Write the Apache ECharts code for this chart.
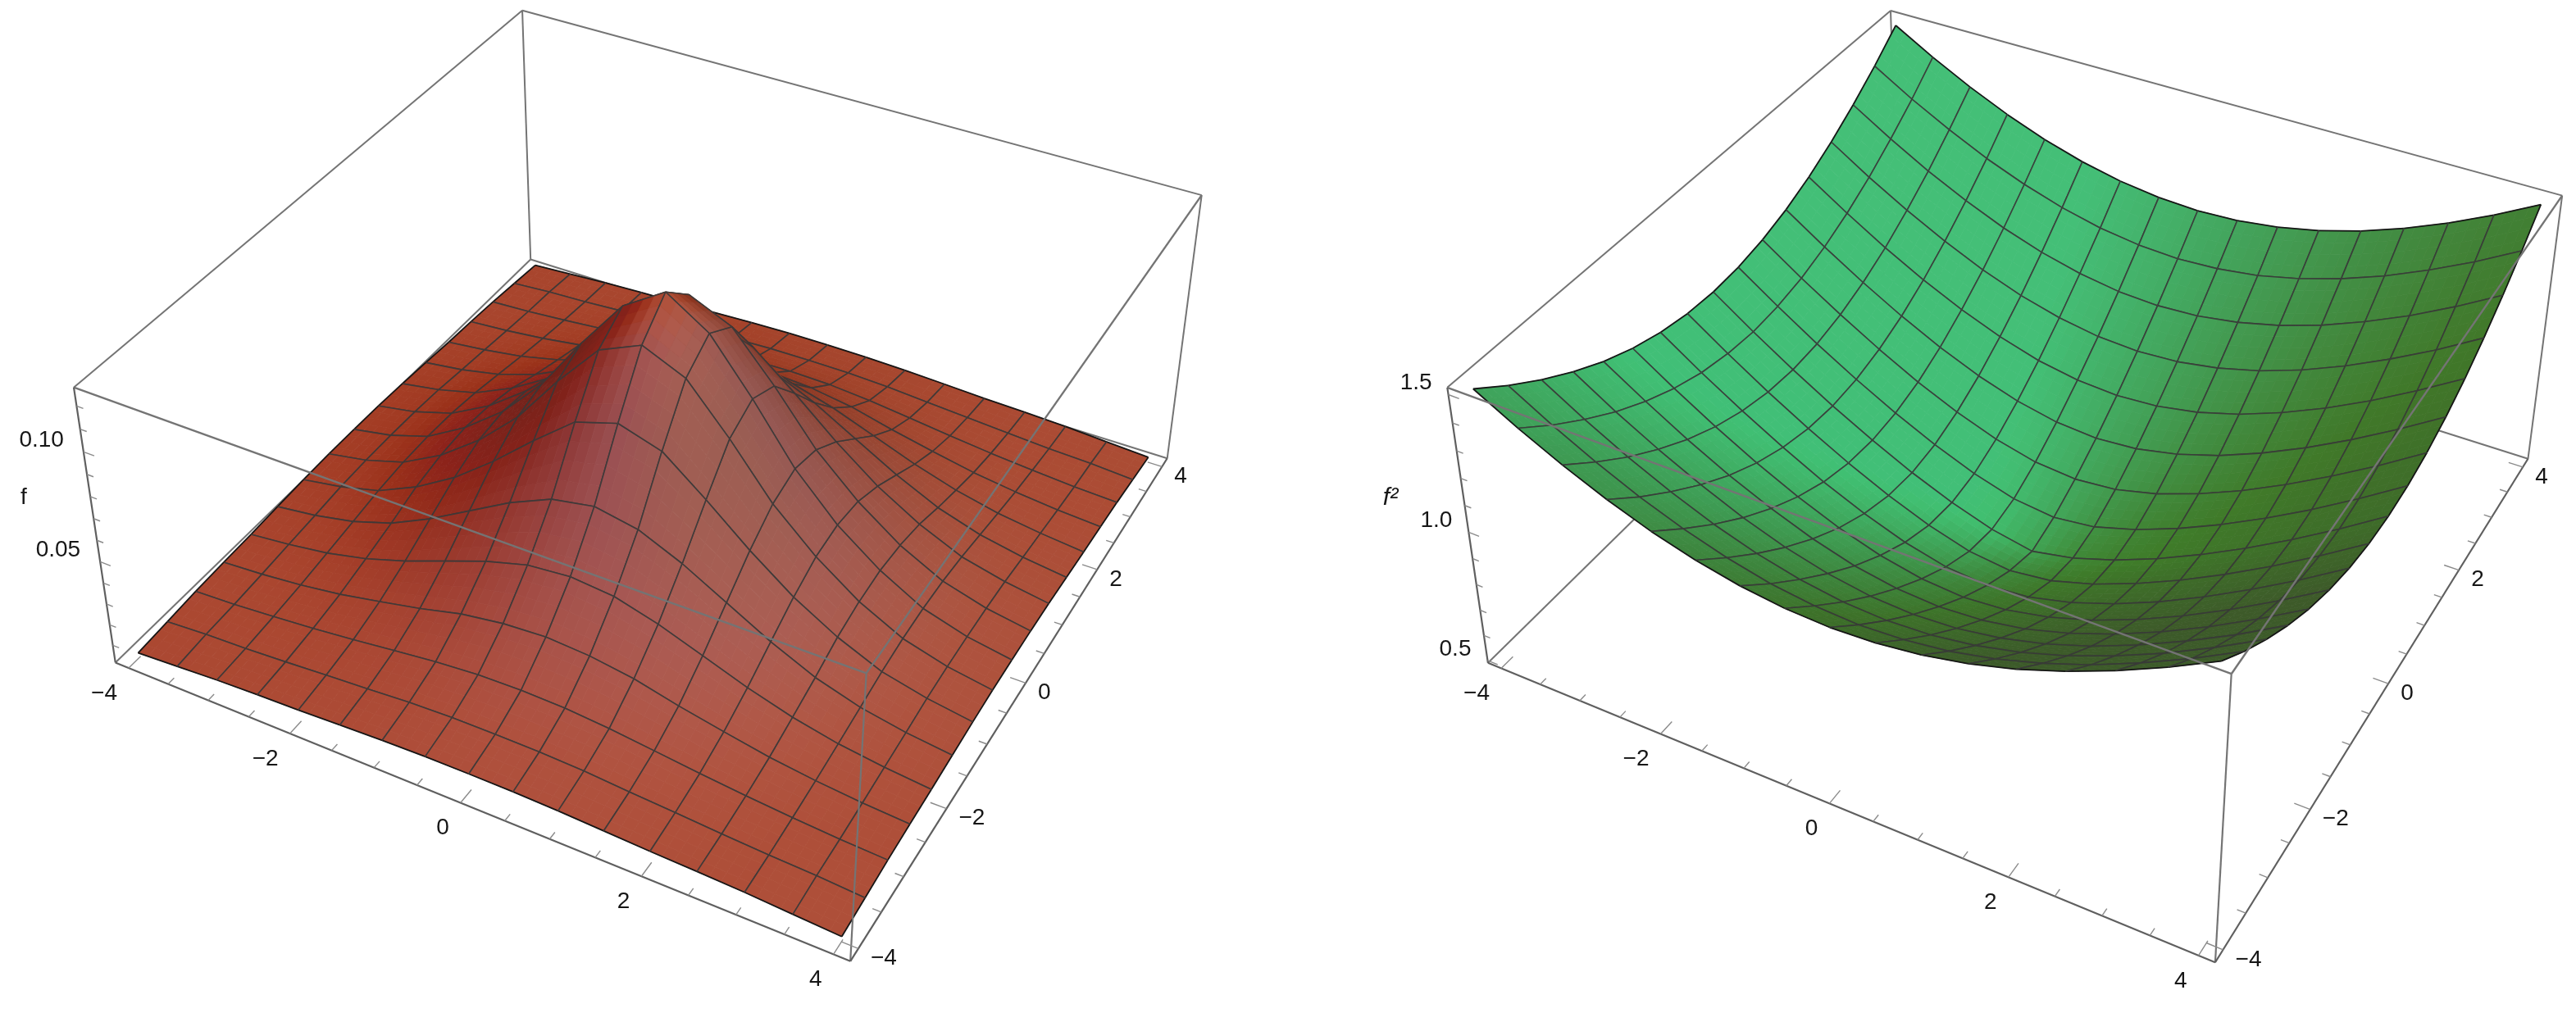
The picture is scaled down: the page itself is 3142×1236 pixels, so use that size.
<!DOCTYPE html>
<html><head><meta charset="utf-8">
<style>html,body{margin:0;padding:0;background:#fff}#c{width:3142px;height:1236px}</style>
<script src="https://cdn.jsdelivr.net/npm/echarts@6/dist/echarts.min.js"></script>
</head><body><div id="c"></div>
<script>
const gridX=[-4,-3.5,-3,-2.5,-2,-1.5,-1,-0.5,0,0.5,1,1.5,2,2.5,3,3.5,4];
const gridY=[-4,-3.5,-3,-2.5,-2,-1.5,-1,-0.5,0,0.5,1,1.5,2,2.5,3,3.5,4];
const fValues=[
[.0040,.0052,.0064,.0072,.0078,.0087,.0095,.0100,.0101,.0100,.0095,.0087,.0078,.0072,.0064,.0052,.0040],
[.0052,.0066,.0074,.0086,.0100,.0113,.0128,.0135,.0137,.0135,.0128,.0113,.0100,.0086,.0074,.0066,.0052],
[.0064,.0074,.0089,.0107,.0129,.0153,.0177,.0193,.0198,.0193,.0177,.0153,.0129,.0107,.0089,.0074,.0064],
[.0072,.0086,.0107,.0135,.0174,.0216,.0265,.0295,.0308,.0295,.0265,.0216,.0174,.0135,.0107,.0086,.0072],
[.0078,.0100,.0129,.0174,.0235,.0308,.0380,.0435,.0453,.0435,.0380,.0308,.0235,.0174,.0129,.0100,.0078],
[.0087,.0113,.0153,.0216,.0308,.0417,.0526,.0612,.0648,.0612,.0526,.0417,.0308,.0216,.0153,.0113,.0087],
[.0095,.0128,.0177,.0265,.0380,.0526,.0690,.0843,.0903,.0843,.0690,.0526,.0380,.0265,.0177,.0128,.0095],
[.0100,.0135,.0193,.0295,.0435,.0612,.0843,.1050,.1134,.1050,.0843,.0612,.0435,.0295,.0193,.0135,.0100],
[.0101,.0137,.0198,.0308,.0453,.0648,.0903,.1134,.1256,.1134,.0903,.0648,.0453,.0308,.0198,.0137,.0101],
[.0100,.0135,.0193,.0295,.0435,.0612,.0843,.1050,.1134,.1050,.0843,.0612,.0435,.0295,.0193,.0135,.0100],
[.0095,.0128,.0177,.0265,.0380,.0526,.0690,.0843,.0903,.0843,.0690,.0526,.0380,.0265,.0177,.0128,.0095],
[.0087,.0113,.0153,.0216,.0308,.0417,.0526,.0612,.0648,.0612,.0526,.0417,.0308,.0216,.0153,.0113,.0087],
[.0078,.0100,.0129,.0174,.0235,.0308,.0380,.0435,.0453,.0435,.0380,.0308,.0235,.0174,.0129,.0100,.0078],
[.0072,.0086,.0107,.0135,.0174,.0216,.0265,.0295,.0308,.0295,.0265,.0216,.0174,.0135,.0107,.0086,.0072],
[.0064,.0074,.0089,.0107,.0129,.0153,.0177,.0193,.0198,.0193,.0177,.0153,.0129,.0107,.0089,.0074,.0064],
[.0052,.0066,.0074,.0086,.0100,.0113,.0128,.0135,.0137,.0135,.0128,.0113,.0100,.0086,.0074,.0066,.0052],
[.0040,.0052,.0064,.0072,.0078,.0087,.0095,.0100,.0101,.0100,.0095,.0087,.0078,.0072,.0064,.0052,.0040]
];
const f2Values=[
[1.505,1.420,1.344,1.277,1.220,1.175,1.142,1.122,1.115,1.122,1.142,1.175,1.220,1.277,1.344,1.420,1.505],
[1.420,1.331,1.252,1.181,1.122,1.074,1.038,1.017,1.009,1.017,1.038,1.074,1.122,1.181,1.252,1.331,1.420],
[1.344,1.252,1.168,1.095,1.031,.980,.942,.918,.910,.918,.942,.980,1.031,1.095,1.168,1.252,1.344],
[1.277,1.181,1.095,1.017,.949,.894,.853,.827,.818,.827,.853,.894,.949,1.017,1.095,1.181,1.277],
[1.220,1.122,1.031,.949,.878,.818,.772,.744,.734,.744,.772,.818,.878,.949,1.031,1.122,1.220],
[1.175,1.074,.980,.894,.818,.753,.703,.670,.658,.670,.703,.753,.818,.894,.980,1.074,1.175],
[1.142,1.038,.942,.853,.772,.703,.646,.607,.593,.607,.646,.703,.772,.853,.942,1.038,1.142],
[1.122,1.017,.918,.827,.744,.670,.607,.560,.541,.560,.607,.670,.744,.827,.918,1.017,1.122],
[1.115,1.009,.910,.818,.734,.658,.593,.541,.510,.541,.593,.658,.734,.818,.910,1.009,1.115],
[1.122,1.017,.918,.827,.744,.670,.607,.560,.541,.560,.607,.670,.744,.827,.918,1.017,1.122],
[1.142,1.038,.942,.853,.772,.703,.646,.607,.593,.607,.646,.703,.772,.853,.942,1.038,1.142],
[1.175,1.074,.980,.894,.818,.753,.703,.670,.658,.670,.703,.753,.818,.894,.980,1.074,1.175],
[1.220,1.122,1.031,.949,.878,.818,.772,.744,.734,.744,.772,.818,.878,.949,1.031,1.122,1.220],
[1.277,1.181,1.095,1.017,.949,.894,.853,.827,.818,.827,.853,.894,.949,1.017,1.095,1.181,1.277],
[1.344,1.252,1.168,1.095,1.031,.980,.942,.918,.910,.918,.942,.980,1.031,1.095,1.168,1.252,1.344],
[1.420,1.331,1.252,1.181,1.122,1.074,1.038,1.017,1.009,1.017,1.038,1.074,1.122,1.181,1.252,1.331,1.420],
[1.505,1.420,1.344,1.277,1.220,1.175,1.142,1.122,1.115,1.122,1.142,1.175,1.220,1.277,1.344,1.420,1.505]
];
const xyTicks=[-4,-3.5,-3,-2.5,-2,-1.5,-1,-0.5,0,0.5,1,1.5,2,2.5,3,3.5,4];
const xyLabels=[-4,-2,0,2,4];
const zTicksF=[.01,.02,.03,.04,.05,.06,.07,.08,.09,.10,.11,.12];
const zLabelsF=[.05,.10];
const zTicksF2=[.5,.6,.7,.8,.9,1.0,1.1,1.2,1.3,1.4,1.5];
const zLabelsF2=[.5,1.0,1.5];

const fontPx=28;
const fontFam='"Liberation Sans", Arial, sans-serif';
const TXT='#161616';

function fitCamera(c){
  const names=[['Ab',0,0,0],['Bb',1,0,0],['Cb',1,1,0],['Db',0,1,0],['At',0,0,1],['Bt',1,0,1],['Ct',1,1,1],['Dt',0,1,1]];
  const A=[],B=[];
  names.forEach(([n,u,v,w])=>{
    const x=c[n][0]/1000,y=c[n][1]/1000;
    A.push([u,v,w,1,0,0,0,0,-x*u,-x*v,-x*w]);B.push(x);
    A.push([0,0,0,0,u,v,w,1,-y*u,-y*v,-y*w]);B.push(y);
  });
  const n=11,M=[];
  for(let i=0;i<n;i++){M.push([]);for(let j=0;j<=n;j++){let s=0;for(let k=0;k<A.length;k++)s+=A[k][i]*(j<n?A[k][j]:B[k]);M[i].push(s);}}
  for(let i=0;i<n;i++){
    let p=i;for(let r=i+1;r<n;r++)if(Math.abs(M[r][i])>Math.abs(M[p][i]))p=r;
    [M[i],M[p]]=[M[p],M[i]];
    for(let r=0;r<n;r++){if(r===i)continue;const f=M[r][i]/M[i][i];for(let j=i;j<=n;j++)M[r][j]-=f*M[i][j];}
  }
  const s=M.map((r,i)=>r[n]/r[i]);
  return [s.slice(0,4),s.slice(4,8),[s[8],s[9],s[10],1]];
}

function buildChart(cfg){
  const P=fitCamera(cfg.corners);
  const r=cfg.range;
  const hom=(x,y,z)=>{
    const u=(x-r.x0)/(r.x1-r.x0),v=(y-r.y0)/(r.y1-r.y0),w=(z-r.z0)/(r.z1-r.z0);
    const a=(i)=>P[i][0]*u+P[i][1]*v+P[i][2]*w+P[i][3];
    const h=a(2);return [a(0)/h*1000,a(1)/h*1000,h];
  };
  const Z=cfg.values,n=gridX.length;
  const dzx=(j,i)=>{const a=Math.max(i-1,0),b=Math.min(i+1,n-1);return (Z[j][b]-Z[j][a])/(gridX[b]-gridX[a]);};
  const dzy=(j,i)=>{const a=Math.max(j-1,0),b=Math.min(j+1,n-1);return (Z[b][i]-Z[a][i])/(gridY[b]-gridY[a]);};
  const slopeK=0.4/(r.z1-r.z0)*(r.x1-r.x0);
  const shade=(gx,gy)=>{
    const sx=gx*slopeK,sy=gy*slopeK,L=Math.hypot(sx,sy,1);
    const m=cfg.light(-sx/L,-sy/L,1/L);
    return 'rgb('+m.map((v,c)=>Math.round(Math.min(255,cfg.base[c]*Math.max(.3,v)))).join(',')+')';
  };
  const cells=[];
  for(let j=0;j<n-1;j++)for(let i=0;i<n-1;i++){
    const xm=(gridX[i]+gridX[i+1])/2,ym=(gridY[j]+gridY[j+1])/2,zm=(Z[j][i]+Z[j][i+1]+Z[j+1][i]+Z[j+1][i+1])/4;
    cells.push({i,j,d:hom(xm,ym,zm)[2]});
  }
  cells.sort((a,b)=>b.d-a.d);
  const SUB=4;
  const surface=(api,cell)=>{
    const {i,j}=cell,ch=[];
    const pt=(s,t)=>{
      const x=gridX[i]+(gridX[i+1]-gridX[i])*s,y=gridY[j]+(gridY[j+1]-gridY[j])*t;
      const z=Z[j][i]*(1-s)*(1-t)+Z[j][i+1]*s*(1-t)+Z[j+1][i]*(1-s)*t+Z[j+1][i+1]*s*t;
      const h=hom(x,y,z);return api.coord([h[0],h[1]]);
    };
    const grad=(s,t,fn)=>fn(j,i)*(1-s)*(1-t)+fn(j,i+1)*s*(1-t)+fn(j+1,i)*(1-s)*t+fn(j+1,i+1)*s*t;
    for(let a=0;a<SUB;a++)for(let b=0;b<SUB;b++){
      const s0=a/SUB,s1=(a+1)/SUB,t0=b/SUB,t1=(b+1)/SUB,sm=(s0+s1)/2,tm=(t0+t1)/2;
      const col=shade(grad(sm,tm,dzx),grad(sm,tm,dzy));
      ch.push({type:'polygon',silent:true,shape:{points:[pt(s0,t0),pt(s1,t0),pt(s1,t1),pt(s0,t1)]},style:{fill:col,stroke:col,lineWidth:.8}});
    }
    const edge=(p,q,outer)=>ch.push({type:'line',silent:true,shape:{x1:p[0],y1:p[1],x2:q[0],y2:q[1]},
      style:{stroke:outer?'#161616':'rgba(56,56,56,.92)',lineWidth:outer?1.8:1.6,fill:null}});
    const p00=pt(0,0),p10=pt(1,0),p11=pt(1,1),p01=pt(0,1);
    edge(p00,p10,j===0);edge(p10,p11,i===n-2);edge(p11,p01,j===n-2);edge(p01,p00,i===0);
    return {type:'group',children:ch};
  };
  const B=r;
  const backEdges=[
    [B.x0,B.y0,B.z0,B.x0,B.y1,B.z0],[B.x0,B.y1,B.z0,B.x1,B.y1,B.z0],[B.x0,B.y1,B.z0,B.x0,B.y1,B.z1],
    [B.x0,B.y0,B.z1,B.x0,B.y1,B.z1],[B.x0,B.y1,B.z1,B.x1,B.y1,B.z1],[B.x1,B.y1,B.z1,B.x1,B.y1,B.z0]
  ].map(e=>({e,c:'#747474',w:2}));
  const frontEdges=[
    {e:[B.x0,B.y0,B.z1,B.x1,B.y0,B.z1],c:'#747474',w:2.4},
    {e:[B.x1,B.y0,B.z1,B.x1,B.y1,B.z1],c:'#747474',w:2.4},
    {e:[B.x1,B.y0,B.z1,B.x1,B.y0,B.z0],c:'#747474',w:2.2},
    {e:[B.x0,B.y0,B.z0,B.x1,B.y0,B.z0],c:'#5f5f5f',w:2.2},
    {e:[B.x1,B.y0,B.z0,B.x1,B.y1,B.z0],c:'#5f5f5f',w:2.2},
    {e:[B.x0,B.y0,B.z0,B.x0,B.y0,B.z1],c:'#5f5f5f',w:2.2}
  ];
  const tickCol='#8a8a8a';
  xyTicks.forEach(t=>{
    const maj=xyLabels.includes(t);
    frontEdges.push({e:[t,B.y0,B.z0,t,B.y0+(maj?.2:.1),B.z0],c:tickCol,w:1.4});
    frontEdges.push({e:[B.x1,t,B.z0,B.x1-(maj?.17:.09),t,B.z0],c:tickCol,w:1.4});
  });
  cfg.zTicks.forEach(t=>{
    const maj=cfg.zLabels.includes(t);
    frontEdges.push({e:[B.x0,B.y0,t,B.x0+(maj?.13:.08),B.y0,t],c:tickCol,w:1.4});
  });
  const texts=[];
  const tf=v=>String(v).replace('-','\u2212');
  xyLabels.forEach(t=>{
    texts.push({p:[t,B.y0,B.z0],dx:-14,dy:31,a:'right',s:tf(t)});
    texts.push({p:[B.x1,t,B.z0],dx:15,dy:12,a:'left',s:tf(t)});
  });
  cfg.zLabels.forEach(t=>{
    texts.push({p:[B.x0,B.y0,t],dx:cfg.zDx,dy:-14,a:'right',s:t.toFixed(cfg.zDigits)});
  });
  texts.push({abs:cfg.axisLabel.at,a:'center',s:cfg.axisLabel.text,italic:cfg.axisLabel.italic,px:cfg.axisLabel.px});

  const lineSeries=(items,z)=>({type:'custom',coordinateSystem:'cartesian2d',z,silent:true,animation:false,clip:false,
    data:items.map((_,i)=>[i,0]),
    renderItem:(p,api)=>{const it=items[p.dataIndex],e=it.e;
      const a=hom(e[0],e[1],e[2]),b=hom(e[3],e[4],e[5]);
      const pa=api.coord([a[0],a[1]]),pb=api.coord([b[0],b[1]]);
      return {type:'line',silent:true,shape:{x1:pa[0],y1:pa[1],x2:pb[0],y2:pb[1]},style:{stroke:it.c,lineWidth:it.w,fill:null}};
    }});
  return [
    lineSeries(backEdges,1),
    {type:'custom',coordinateSystem:'cartesian2d',z:2,silent:true,animation:false,clip:false,
     data:cells.map((_,i)=>[i,0]),renderItem:(p,api)=>surface(api,cells[p.dataIndex])},
    lineSeries(frontEdges,3),
    {type:'custom',coordinateSystem:'cartesian2d',z:4,silent:true,animation:false,clip:false,
     data:texts.map((_,i)=>[i,0]),
     renderItem:(p,api)=>{const t=texts[p.dataIndex];
       let c;
       if(t.abs)c=api.coord(t.abs);else{const h=hom(...t.p);c=api.coord([h[0]+t.dx,h[1]+t.dy]);}
       return {type:'text',silent:true,x:c[0],y:c[1],style:{text:t.s,font:(t.italic?'italic ':'')+(t.px||fontPx)+'px '+fontFam,fill:TXT,textAlign:t.a,textVerticalAlign:'middle'}};
     }}
  ];
}

const clamp=(v,a,b)=>Math.min(b,Math.max(a,v));
const redLight=(nx,ny,nz)=>[
  1+.2*Math.min(nx,0)+.1*Math.max(nx,0)-.13*ny-.55*(1-nz),
  Math.min(1.25,.45+Math.max(0,(nx<0?.9:.5)*nx-.34*ny+.55*nz)),
  clamp(1+.8*((nx<0?1.8:1)*nx-.9*ny),.5,1.6)
];
const greenLight=(nx,ny,nz)=>[
  1+.05*nx-.1*ny,
  clamp(1+.6*nx-(ny>0?.6:.1)*ny,.55,1.17),
  clamp(1+1.25*nx-(ny>0?1:.4)*ny,.5,1.45)
];
const leftCfg={values:fValues,base:[172,75,52],light:redLight,zDx:-24,
  range:{x0:-4.17,x1:4.17,y0:-4.17,y1:4.17,z0:.0015,z1:.128},
  corners:{Ab:[140.7,808.3],Bb:[1037.5,1172.7],Cb:[1423.7,559.3],Db:[647,316.7],At:[90,472.7],Bt:[1056.4,821.7],Ct:[1465.6,238],Dt:[637.3,12.6]},
  zTicks:zTicksF,zLabels:zLabelsF,zDigits:2,axisLabel:{text:'f',at:[29,607],italic:false}};
const rightCfg={values:f2Values,base:[64,163,82],light:greenLight,zDx:-20,
  range:{x0:-4.17,x1:4.17,y0:-4.17,y1:4.17,z0:.49,z1:1.525},
  corners:{Ab:[1815,808.3],Bb:[2702.7,1174.2],Cb:[3083.5,560],Db:[2315,317],At:[1765,473.3],Bt:[2721.1,822.4],Ct:[3124.9,238.3],Dt:[2306.9,12.7]},
  zTicks:zTicksF2,zLabels:zLabelsF2,zDigits:1,axisLabel:{text:'f\u00b2',at:[1696,608],italic:true,px:30}};

const chart=echarts.init(document.getElementById('c'),null,{renderer:'canvas'});
chart.setOption({
  animation:false,backgroundColor:'#fff',
  grid:{left:0,top:0,width:3142,height:1236,containLabel:false},
  xAxis:{type:'value',min:0,max:3142,show:false},
  yAxis:{type:'value',min:0,max:1236,inverse:true,show:false},
  tooltip:{show:false},
  series:[...buildChart(leftCfg),...buildChart(rightCfg)]
});
</script></body></html>
